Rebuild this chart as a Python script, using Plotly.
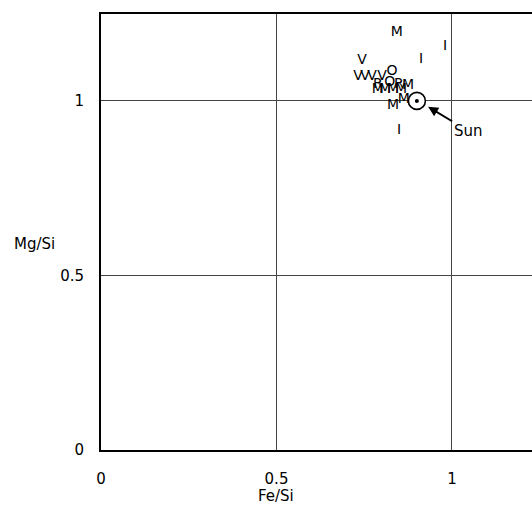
import plotly.graph_objects as go

# Class letters plotted at their Fe/Si, Mg/Si ratios
letters = ["M", "I", "I", "V", "V", "V", "V", "V", "O",
           "R", "O", "R", "M", "M", "M", "M", "M", "M", "M", "I"]
fe_si = [0.843, 0.980, 0.912, 0.744, 0.732, 0.752, 0.772, 0.801, 0.829,
         0.789, 0.823, 0.849, 0.875, 0.789, 0.809, 0.832, 0.855, 0.832, 0.863, 0.849]
mg_si = [1.195, 1.155, 1.120, 1.115, 1.069, 1.069, 1.069, 1.069, 1.083,
         1.046, 1.054, 1.046, 1.043, 1.034, 1.034, 1.034, 1.034, 0.986, 1.003, 0.914]

sun_fe_si = [0.90]
sun_mg_si = [1.00]

tick_vals = [0, 0.5, 1]
tick_text = ["0", "0.5", "1"]

font_family = "DejaVu Sans"

fig = go.Figure()

fig.add_trace(go.Scatter(
    x=fe_si, y=mg_si, mode="text", text=letters,
    textposition="middle center",
    textfont=dict(family=font_family, size=14, color="black"),
    hoverinfo="skip", showlegend=False,
))

# Solar symbol: ring with a central dot
fig.add_trace(go.Scatter(
    x=sun_fe_si, y=sun_mg_si, mode="markers",
    marker=dict(symbol="circle", size=17, color="white",
                line=dict(color="black", width=1.6)),
    showlegend=False, hoverinfo="skip",
))
fig.add_trace(go.Scatter(
    x=sun_fe_si, y=sun_mg_si, mode="markers",
    marker=dict(symbol="circle", size=4, color="black"),
    showlegend=False, hoverinfo="skip",
))

fig.add_annotation(
    x=0.932, y=0.983, xref="x", yref="y",
    text="Sun", showarrow=True, arrowhead=2, arrowsize=1, arrowwidth=2,
    arrowcolor="black", ax=40, ay=24, standoff=0,
    font=dict(family=font_family, size=15, color="black"),
)

W, H = 532, 508
ml, mr, mt, mb = 101, 0, 14, 58
pw, ph = W - ml - mr, H - mt - mb

# Axis titles
fig.add_annotation(
    x=(276 - ml) / pw, y=-(496 - 450) / ph, xref="paper", yref="paper",
    text="Fe/Si", showarrow=False, xanchor="center", yanchor="middle",
    font=dict(family=font_family, size=15, color="black"),
)
fig.add_annotation(
    x=-(ml - 34) / pw, y=(450 - 244) / ph, xref="paper", yref="paper",
    text="Mg/Si", showarrow=False, xanchor="center", yanchor="middle",
    font=dict(family=font_family, size=15, color="black"),
)

axis_common = dict(
    showgrid=True, gridcolor="#444444", gridwidth=1.2,
    zeroline=False, showline=True, linecolor="black", linewidth=2,
    tickvals=tick_vals, ticktext=tick_text, ticks="",
    tickfont=dict(family=font_family, size=15, color="black"),
)

fig.update_xaxes(range=[0, 1.228], mirror=True, ticklabelstandoff=14, **axis_common)
fig.update_yaxes(range=[0, 1.249], mirror=False, ticklabelstandoff=12, **axis_common)

fig.update_layout(
    width=W, height=H,
    margin=dict(l=ml, r=mr, t=mt, b=mb),
    plot_bgcolor="white", paper_bgcolor="white",
)

fig.write_html("out.html")
